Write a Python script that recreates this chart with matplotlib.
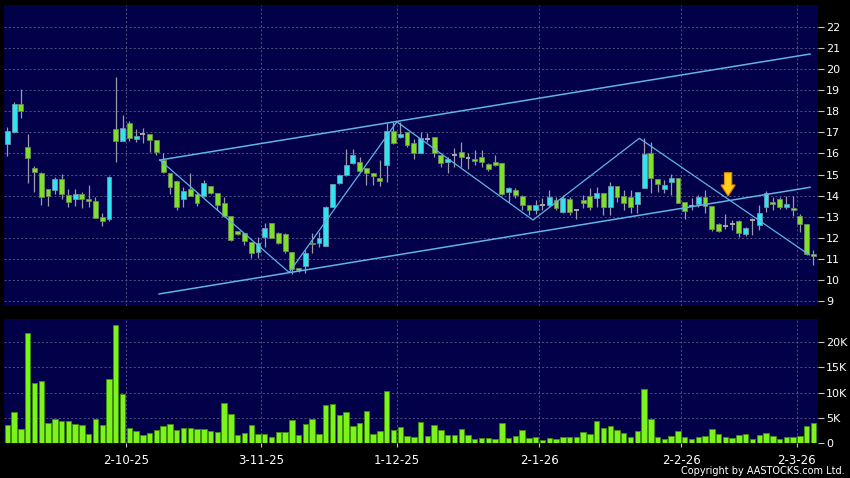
import numpy as np
import matplotlib
matplotlib.use('Agg')
import matplotlib.pyplot as plt
from matplotlib.patches import FancyArrow
from matplotlib.ticker import FuncFormatter

# 日K线数据
opens = [16.43, 17.03, 18.33, 16.32, 15.30, 15.09, 14.30, 14.27, 14.78, 14.03,
         13.83, 14.07, 13.83, 13.77, 13.01, 12.88, 17.14, 16.59, 17.43, 16.67,
         16.91, 16.91, 16.64, 15.69, 15.09, 14.71, 13.83, 14.30, 14.08, 13.99,
         14.48, 14.11, 13.64, 13.06, 12.35, 12.25, 11.83, 11.35, 12.03, 12.69,
         12.25, 12.20, 11.35, 10.56, 10.67, 11.77, 11.75, 11.62, 13.45, 14.59,
         14.98, 15.53, 15.61, 15.30, 15.06, 14.82, 15.47, 17.07, 16.80, 17.03,
         16.51, 16.01, 16.67, 16.80, 15.93, 15.61, 15.93, 16.09, 15.77, 15.72,
         15.85, 15.50, 15.61, 15.57, 14.19, 14.27, 14.00, 13.56, 13.32, 13.56,
         13.56, 13.80, 13.25, 13.83, 13.32, 13.80, 14.00, 13.88, 14.11, 13.48,
         14.48, 14.00, 13.92, 13.59, 14.35, 16.01, 14.78, 14.30, 14.63, 14.82,
         13.72, 13.52, 13.59, 13.96, 13.51, 12.66, 12.57, 12.66, 12.82, 12.17,
         12.85, 12.61, 13.48, 13.72, 13.85, 13.45, 13.43, 13.04, 12.66, 11.24]
highs = [17.27, 18.42, 19.05, 16.92, 15.41, 15.12, 14.32, 14.87, 15.01, 14.30,
         14.30, 14.18, 14.51, 13.96, 13.20, 14.93, 19.64, 17.82, 17.55, 17.14,
         17.19, 16.91, 16.64, 16.01, 15.09, 14.71, 14.43, 15.09, 14.19, 14.74,
         14.48, 14.11, 13.96, 13.06, 12.35, 12.25, 11.83, 12.06, 12.72, 12.72,
         12.28, 12.22, 11.35, 10.58, 11.43, 12.25, 12.30, 13.51, 14.54, 15.03,
         16.20, 16.23, 15.82, 15.30, 15.06, 15.69, 17.46, 17.51, 17.51, 17.03,
         16.67, 17.03, 16.99, 16.80, 15.93, 15.82, 16.24, 16.56, 16.00, 16.17,
         16.17, 15.55, 15.93, 15.57, 14.43, 14.35, 14.03, 13.56, 13.80, 13.88,
         14.27, 13.96, 14.03, 13.96, 13.36, 14.03, 14.35, 14.43, 14.11, 14.67,
         14.48, 14.27, 14.27, 14.19, 16.72, 16.56, 14.78, 14.74, 15.01, 14.82,
         13.72, 13.88, 14.03, 14.27, 13.51, 12.69, 13.14, 12.85, 12.85, 12.54,
         12.93, 13.56, 14.24, 13.96, 13.96, 13.99, 13.99, 13.14, 12.66, 11.43]
lows = [15.90, 16.98, 17.70, 14.59, 14.19, 13.56, 13.53, 14.08, 13.85, 13.45,
        13.53, 13.40, 13.45, 12.93, 12.58, 12.80, 15.58, 16.59, 16.61, 16.56,
        16.51, 16.09, 15.93, 15.06, 14.08, 13.32, 13.48, 14.00, 13.53, 13.96,
        14.07, 13.32, 13.01, 11.87, 12.14, 11.67, 11.07, 11.04, 11.59, 11.98,
        11.71, 11.30, 10.29, 10.40, 10.33, 11.30, 11.59, 11.62, 13.45, 14.56,
        14.93, 15.50, 15.14, 14.51, 14.51, 14.46, 14.67, 16.45, 16.75, 16.32,
        15.72, 16.00, 16.56, 15.85, 15.38, 15.06, 15.38, 15.38, 15.25, 15.45,
        15.38, 15.17, 15.40, 14.03, 13.72, 13.88, 13.32, 13.09, 13.14, 13.32,
        13.48, 13.32, 13.17, 13.09, 12.88, 13.40, 13.32, 13.48, 13.09, 13.09,
        13.72, 13.32, 13.20, 13.20, 14.35, 14.11, 14.19, 14.11, 14.03, 13.64,
        12.88, 13.32, 13.48, 13.20, 12.35, 12.30, 12.41, 12.38, 12.06, 12.11,
        12.14, 12.38, 13.25, 13.32, 13.36, 13.36, 13.04, 12.30, 11.19, 10.72]
closes = [17.07, 18.33, 18.03, 15.77, 15.11, 13.96, 14.00, 14.78, 14.08, 13.69,
          14.07, 13.83, 13.74, 12.93, 12.82, 14.87, 16.59, 17.19, 16.72, 16.81,
          16.91, 16.64, 16.05, 15.11, 14.43, 13.48, 14.24, 14.00, 13.64, 14.62,
          14.11, 13.56, 13.06, 11.90, 12.19, 11.87, 11.30, 11.75, 12.46, 11.98,
          11.75, 11.38, 10.52, 10.48, 11.30, 11.73, 11.98, 13.45, 14.54, 14.97,
          15.44, 15.91, 15.19, 15.06, 14.93, 14.68, 17.07, 16.48, 16.91, 16.39,
          16.01, 16.75, 16.67, 16.01, 15.53, 15.72, 15.93, 15.82, 15.77, 15.66,
          15.61, 15.25, 15.45, 14.08, 14.35, 14.03, 13.56, 13.32, 13.56, 13.56,
          13.96, 13.40, 13.88, 13.25, 13.32, 13.64, 13.48, 14.11, 13.48, 14.48,
          13.96, 13.67, 13.48, 14.16, 15.98, 14.82, 14.54, 14.51, 14.82, 13.67,
          13.28, 13.52, 13.96, 13.51, 12.41, 12.33, 12.57, 12.66, 12.22, 12.46,
          12.85, 13.17, 14.15, 13.61, 13.45, 13.59, 13.32, 12.66, 11.24, 11.15]
volumes = [3519, 6175, 2722, 21779, 11952, 12218, 3984, 4847, 4382, 4382,
           3718, 3519, 1859, 4781, 3652, 12616, 23439, 9628, 3054, 2324,
           1527, 1992, 2523, 3386, 3851, 2523, 3054, 3054, 2722, 2855,
           2324, 2191, 8034, 5710, 1527, 1992, 3652, 1859, 1859, 1195,
           2191, 2191, 4648, 1527, 3718, 4847, 1859, 7503, 7702, 5511,
           6175, 3320, 3984, 6374, 1859, 2324, 10358, 2523, 3187, 1328,
           1195, 4183, 1394, 3652, 2656, 1527, 1527, 2855, 1527, 863,
           996, 996, 863, 4050, 996, 1328, 2656, 996, 1195, 664,
           996, 797, 1195, 1195, 1195, 2191, 1859, 4382, 3054, 3386,
           2523, 2058, 1195, 2324, 10690, 4847, 1195, 730, 1328, 2390,
           1195, 863, 1195, 1328, 2722, 1726, 1195, 1062, 1527, 1726,
           863, 1527, 1992, 1394, 863, 1195, 1195, 1394, 3320, 3984]

# 日期刻度 (月初, 位于两根K线之间)
date_ticks = [17.5, 37.5, 57.5, 78.5, 99.5, 116.5]
date_labels = ['2-10-25', '3-11-25', '1-12-25', '2-1-26', '2-2-26', '2-3-26']
price_ticks = list(range(9, 23))
volume_ticks = [0, 5000, 10000, 15000, 20000]

# 趋势线
upper_x, upper_y = [22.5, 118.5], [15.69, 20.71]
lower_x, lower_y = [22.4, 118.5], [9.35, 14.40]
zigzag_x = [22.5, 41.6, 57.5, 77.6, 93.3, 118.4]
zigzag_y = [15.69, 10.37, 17.50, 12.85, 16.72, 11.20]
arrow_x, arrow_top, arrow_tip = 106.4, 15.09, 13.99

BG = '#010048'
GRID = '#5a5a8c'
UP = '#2fe4f0'
DOWN = '#7fe02a'
FLAT = '#a8a8a8'
WICK = '#9a9aa8'
LINE = '#5fb4e6'

W, H = 850, 478
fig = plt.figure(figsize=(W / 100, H / 100), dpi=100, facecolor='black')
ax1 = fig.add_axes([4 / W, 1 - 306 / H, 813.5 / W, 301 / H])
ax2 = fig.add_axes([4 / W, 1 - 443 / H, 813.5 / W, 124.5 / H])

o = np.array(opens)
h = np.array(highs)
l = np.array(lows)
c = np.array(closes)
x = np.arange(len(o))

for ax in (ax1, ax2):
    ax.set_facecolor(BG)
    for s in ax.spines.values():
        s.set_visible(False)
    ax.set_xlim(-0.5, 119.6)
    ax.yaxis.tick_right()
    ax.set_xticks(date_ticks)
    ax.grid(True, color=GRID, linestyle=(0, (2.5, 2.5)), linewidth=0.6)
    ax.set_axisbelow(True)
    ax.tick_params(axis='y', colors='#c8c8c8', labelcolor='white', labelsize=8,
                   length=4, width=0.8, pad=2)

# 价格图
up = c > o
down = c < o
flat = c == o
bw = 0.72
ax1.vlines(x, l, h, color=WICK, linewidth=0.9, zorder=2)
ax1.bar(x[up], (c - o)[up], bottom=o[up], width=bw, color=UP,
        edgecolor='#6a98a8', linewidth=0.6, zorder=3)
ax1.bar(x[down], (o - c)[down], bottom=c[down], width=bw, color=DOWN,
        edgecolor='#6b8a58', linewidth=0.6, zorder=3)
ax1.hlines(o[flat], x[flat] - bw / 2, x[flat] + bw / 2, color=FLAT,
           linewidth=1.4, zorder=3)

ax1.plot(upper_x, upper_y, color=LINE, linewidth=1.1, zorder=4)
ax1.plot(lower_x, lower_y, color=LINE, linewidth=1.1, zorder=4)
ax1.plot(zigzag_x, zigzag_y, color=LINE, linewidth=0.9, zorder=4)

# 向下箭头
ax1.add_patch(FancyArrow(arrow_x, arrow_top, 0, arrow_tip - arrow_top,
                         width=1.08, head_width=2.1, head_length=0.52,
                         length_includes_head=True, fc='#ffcc1a', ec='#e08a00',
                         lw=0.8, zorder=5))

ax1.set_ylim(8.78, 23.03)
ax1.set_yticks(price_ticks)
ax1.tick_params(axis='x', length=0, labelbottom=False)

# 成交量图
ax2.bar(x, volumes, width=0.8, color='#7cf41c', edgecolor='#3e8a12',
        linewidth=0.7, zorder=3)
ax2.set_ylim(0, 24700)
ax2.set_yticks(volume_ticks)
ax2.yaxis.set_major_formatter(FuncFormatter(
    lambda v, p: '0' if v == 0 else f'{int(v / 1000)}K'))
ax2.set_xticklabels(date_labels)
ax2.tick_params(axis='x', colors='#c8c8c8', labelcolor='white', labelsize=8.5,
                length=3, width=0.8, pad=5)

fig.text(845 / W, 1 - 471 / H, 'Copyright by AASTOCKS.com Ltd.', color='white',
         fontsize=7, ha='right', va='center')

fig.savefig('out.png', dpi=100, facecolor='black')
